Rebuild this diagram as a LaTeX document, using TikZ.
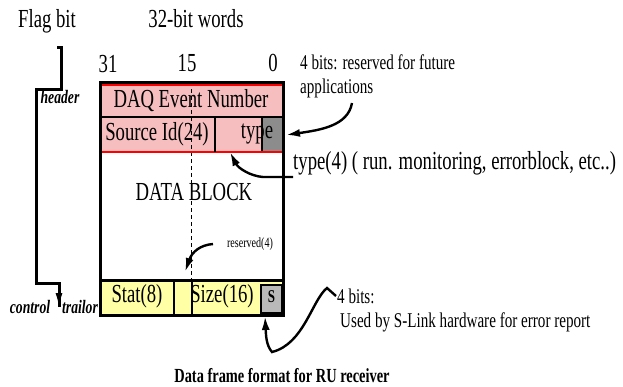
\documentclass[tikz,border=0pt]{standalone}
\usepackage{fontspec}
\setmainfont[FakeStretch=0.72]{Liberation Serif}
\usetikzlibrary{arrows.meta}
\definecolor{pinkfill}{RGB}{246,190,190}
\definecolor{yelfill}{RGB}{255,255,165}
\definecolor{greyfill}{RGB}{140,140,140}
\definecolor{sgrey}{RGB}{185,185,185}
\tikzset{
  txt/.style={inner sep=0pt, font=\fontsize{26}{28}\selectfont},
  mid/.style={inner sep=0pt, font=\fontsize{21}{23}\selectfont},
  small/.style={inner sep=0pt, font=\fontsize{14}{16}\selectfont},
  tag/.style={inner sep=0pt, font=\fontsize{19}{21}\selectfont\bfseries\itshape},
  caption/.style={inner sep=0pt, font=\fontsize{20}{22}\selectfont\bfseries},
  frame/.style={line width=3pt},
  divider/.style={line width=2pt},
  redline/.style={draw=red, line width=2.2pt},
  bracket/.style={line width=3pt, line join=miter},
  arr/.style={line width=2.4pt, -{Latex[length=14pt,width=8pt]}},
  arrthin/.style={line width=1.6pt, -{Latex[length=14pt,width=7pt]}},
}
\begin{document}
\begin{tikzpicture}[x=1pt,y=-1pt]
\useasboundingbox (0,0) rectangle (623,386);
% headings
\node[txt] (flag) at (47,21) {Flag bit};
\node[txt] (words) at (196,19) {32-bit words};
\node[txt] (b31) at (108,64) {31};
\node[txt] (b15) at (187,63) {15};
\node[txt] (b0) at (273,63) {0};
% header fill
\fill[pinkfill] (100,82) rectangle (283,152);
\fill[yelfill] (100,280) rectangle (283,315);
% type grey box
\fill[greyfill] (262,117) rectangle (283,152);
\draw[line width=1.5pt] (262,117) -- (262,152);
% dashed centre line
\draw[line width=0.8pt, dash pattern=on 4pt off 3pt] (191,82) -- (191,280);
% header rows
\draw[redline] (100,85) -- (283,85);
\draw[redline] (100,152) -- (283,152);
\draw[divider] (100,117) -- (283,117);
\draw[divider] (215,117) -- (215,152);
% trailer
\draw[frame] (100,280) -- (283,280);
\draw[divider] (174,280) -- (174,315);
\draw[divider] (192,280) -- (192,315);
\draw[sgrey, fill=sgrey] (261,285) rectangle (282,313);
\draw[line width=2.6pt] (261,285) rectangle (282,313);
% outer frame
\draw[frame] (100,82) rectangle (283,315);
% box texts
\node[txt] (daq) at (191,101) {DAQ Event Number};
\node[txt] (src) at (157,134) {Source Id(24)};
\node[txt] (typ) at (257,134) {type};
\node[txt] (data) at (194,192) {DATA BLOCK};
\node[txt] (stat) at (137,296) {Stat(8)};
\node[txt] (size) at (222,296) {Size(16)};
\node[inner sep=0pt, font=\fontsize{18}{20}\selectfont\bfseries] (sbit) at (271.5,297) {S};
\node[small] (resv) at (250,244) {reserved(4)};
% flag bracket
\coordinate (fb1) at (57,47);
\coordinate (fb2) at (61,47);
\coordinate (fb3) at (61,89);
\coordinate (fb4) at (36,89);
\coordinate (fb5) at (36,283);
\coordinate (fb6) at (59,283);
\coordinate (fb7) at (59,307);
\draw[bracket] (fb1) -- (fb2) -- (fb3) -- (fb4) -- (fb5) -- (fb6) -- (fb7);
\draw[arrthin] (59,290) -- (fb7);
\node[tag] (hdr) at (60,97) {header};
\node[tag] (ctl) at (30,307) {control};
\node[tag] (trl) at (80,307) {trailor};
% right annotations
\node[mid, anchor=west] (fut1) at (300,62) {4 bits: reserved for future};
\node[mid, anchor=west] (fut2) at (300,88) {applications};
\node[txt, anchor=west] (type4) at (293,163) {type(4) ( run. monitoring, errorblock, etc..)};
\node[mid, anchor=west] (sl1) at (337,296) {4 bits:};
\node[mid, anchor=west] (sl2) at (340,322) {Used by S-Link hardware for error report};
\node[caption, anchor=base] (cap) at (282,382) {Data frame format for RU receiver};
% arrows
\coordinate (a1s) at (352,103);
\coordinate (a1e) at (286,135);
\draw[arr] (a1s) .. controls (348,126) and (320,130) .. (a1e);
\coordinate (a2s) at (293,177);
\coordinate (a2m) at (263,177);
\coordinate (a2e) at (230,152);
\draw[arr] (a2s) -- (a2m) .. controls (250,176) and (238,168) .. (a2e);
\coordinate (a3s) at (213,244);
\coordinate (a3e) at (185,272);
\draw[arr] (a3s) .. controls (200,245) and (192,252) .. (a3e);
\coordinate (a4s) at (336,296);
\coordinate (a4p) at (327,288);
\coordinate (a4b) at (272,352);
\coordinate (a4e) at (265,316);
\draw[arr] (a4s) -- (a4p) .. controls (312,300) and (304,344) .. (a4b) .. controls (266,345) and (266,335) .. (a4e);
\end{tikzpicture}
\end{document}
